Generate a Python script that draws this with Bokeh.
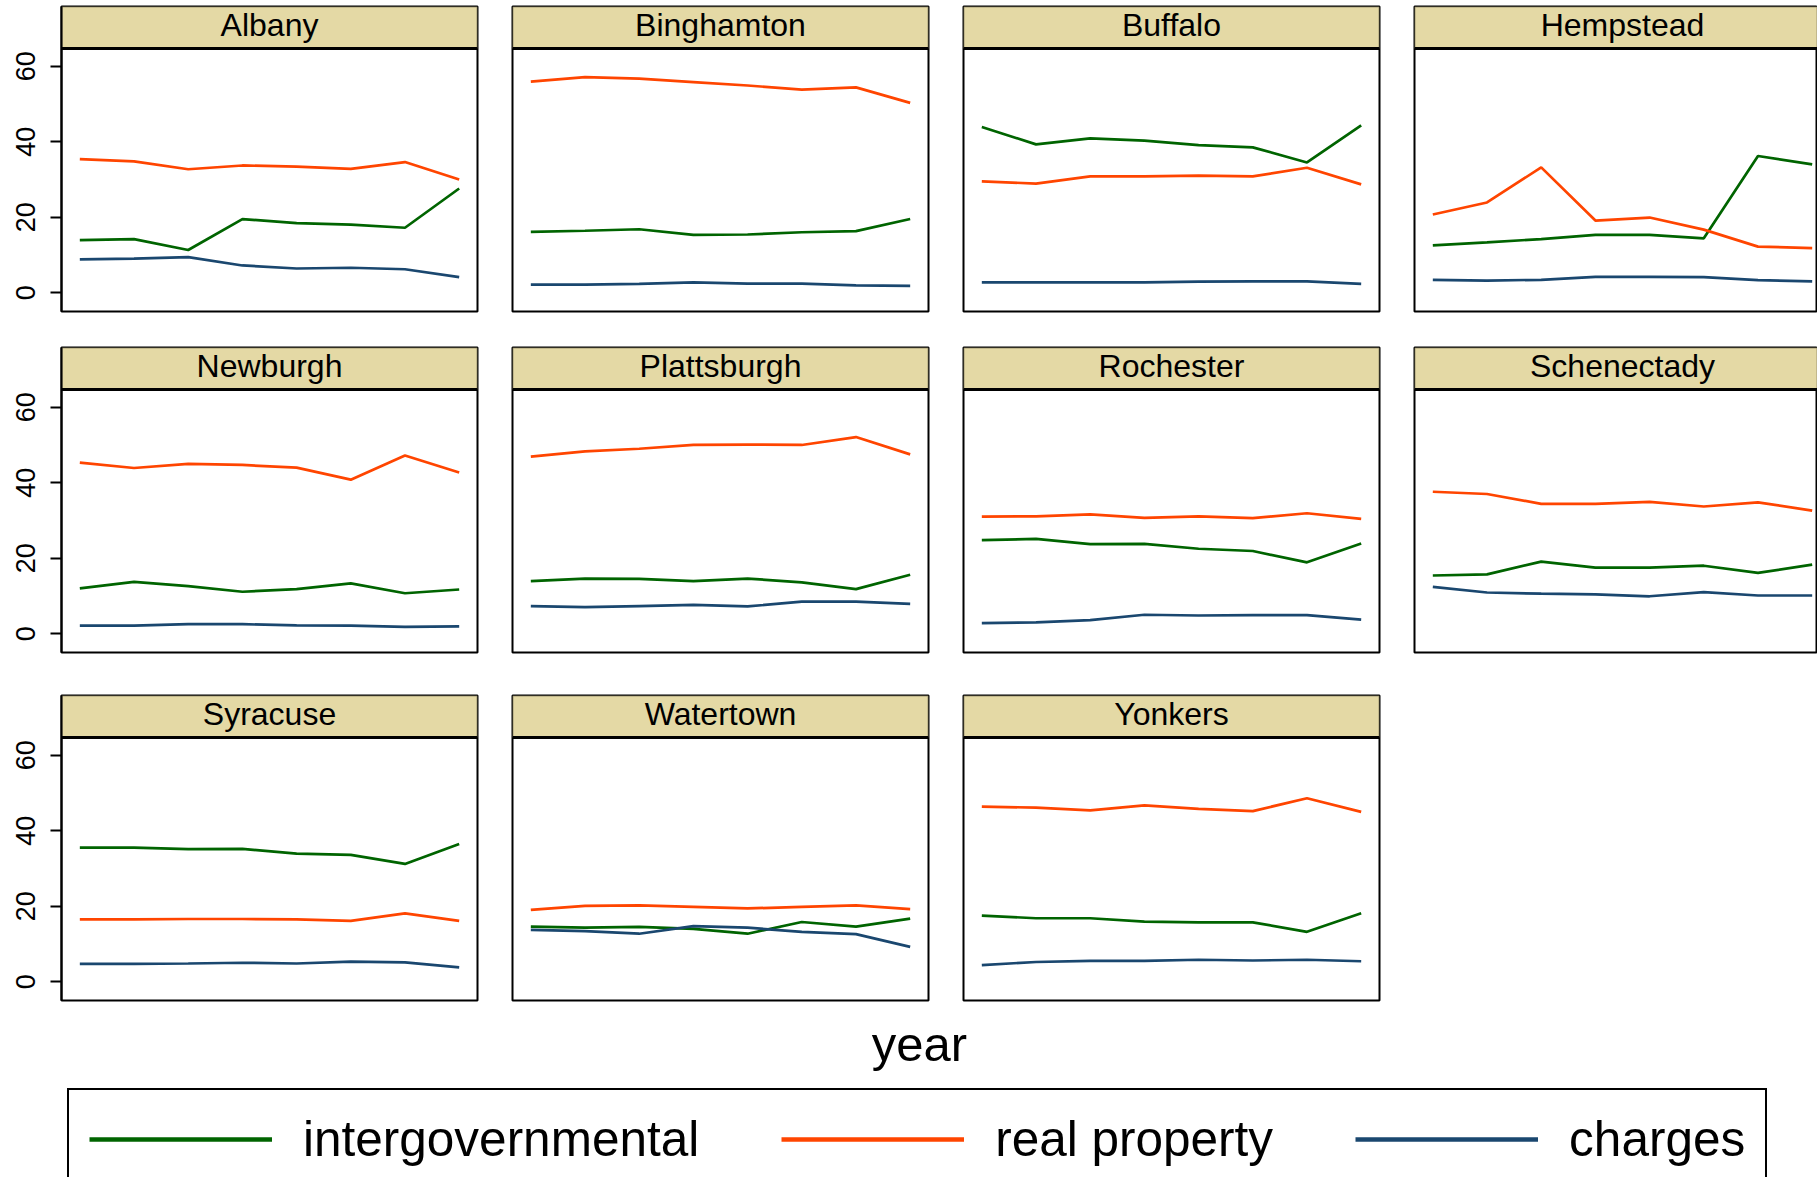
from bokeh.plotting import figure
from bokeh.models import (Range1d, FixedTicker, BoxAnnotation, Span, Label,
                          Legend, LegendItem)
from bokeh.layouts import row, column
from bokeh.embed import file_html
from bokeh.resources import INLINE

# ---------------- data ----------------
years = [2010, 2011, 2012, 2013, 2014, 2015, 2016, 2017]
cities = ["Albany", "Binghamton", "Buffalo", "Hempstead",
          "Newburgh", "Plattsburgh", "Rochester", "Schenectady",
          "Syracuse", "Watertown", "Yonkers"]
series_names = ["intergovernmental", "real property", "charges"]
y_ticks = [0, 20, 40, 60]

intergovernmental = [
    [13.9, 14.2, 11.3, 19.5, 18.4, 18.0, 17.2, 27.6],  # Albany
    [16.1, 16.4, 16.8, 15.3, 15.4, 16.0, 16.3, 19.5],  # Binghamton
    [43.9, 39.3, 40.9, 40.3, 39.1, 38.5, 34.5, 44.3],  # Buffalo
    [12.5, 13.3, 14.2, 15.3, 15.3, 14.4, 36.2, 34.0],  # Hempstead
    [12.0, 13.7, 12.6, 11.1, 11.8, 13.3, 10.7, 11.7],  # Newburgh
    [13.9, 14.6, 14.5, 13.9, 14.6, 13.6, 11.8, 15.6],  # Plattsburgh
    [24.8, 25.1, 23.7, 23.8, 22.5, 21.9, 18.9, 23.9],  # Rochester
    [15.4, 15.7, 19.1, 17.5, 17.5, 18.0, 16.1, 18.3],  # Schenectady
    [35.5, 35.5, 35.1, 35.2, 33.9, 33.6, 31.2, 36.5],  # Syracuse
    [14.6, 14.3, 14.5, 14.0, 12.7, 15.8, 14.6, 16.7],  # Watertown
    [17.5, 16.8, 16.8, 15.9, 15.7, 15.7, 13.2, 18.1],  # Yonkers
]
real_property = [
    [35.4, 34.8, 32.7, 33.7, 33.4, 32.8, 34.6, 30.0],  # Albany
    [55.9, 57.1, 56.7, 55.8, 54.9, 53.8, 54.4, 50.3],  # Binghamton
    [29.5, 28.9, 30.8, 30.8, 31.0, 30.8, 33.1, 28.7],  # Buffalo
    [20.7, 23.9, 33.2, 19.1, 19.9, 16.7, 12.2, 11.8],  # Hempstead
    [45.3, 43.9, 45.0, 44.7, 44.0, 40.8, 47.2, 42.7],  # Newburgh
    [46.9, 48.3, 49.0, 50.0, 50.1, 50.0, 52.1, 47.5],  # Plattsburgh
    [31.0, 31.1, 31.6, 30.7, 31.1, 30.6, 31.9, 30.4],  # Rochester
    [37.6, 37.0, 34.4, 34.4, 34.9, 33.7, 34.8, 32.6],  # Schenectady
    [16.5, 16.5, 16.6, 16.6, 16.5, 16.1, 18.1, 16.1],  # Syracuse
    [19.0, 20.1, 20.2, 19.8, 19.4, 19.8, 20.2, 19.2],  # Watertown
    [46.4, 46.1, 45.4, 46.7, 45.8, 45.2, 48.6, 45.0],  # Yonkers
]
charges = [
    [8.8, 9.0, 9.4, 7.2, 6.4, 6.6, 6.2, 4.1],          # Albany
    [2.1, 2.1, 2.3, 2.7, 2.4, 2.4, 1.9, 1.8],          # Binghamton
    [2.7, 2.7, 2.7, 2.7, 2.9, 3.0, 3.0, 2.3],          # Buffalo
    [3.4, 3.2, 3.4, 4.2, 4.2, 4.1, 3.3, 3.0],          # Hempstead
    [2.1, 2.1, 2.5, 2.5, 2.2, 2.1, 1.8, 1.9],          # Newburgh
    [7.3, 7.0, 7.3, 7.6, 7.2, 8.5, 8.5, 7.9],          # Plattsburgh
    [2.8, 3.0, 3.6, 5.0, 4.8, 4.9, 4.9, 3.7],          # Rochester
    [12.4, 10.9, 10.6, 10.4, 9.9, 11.0, 10.1, 10.1],   # Schenectady
    [4.7, 4.7, 4.8, 5.0, 4.8, 5.3, 5.1, 3.8],          # Syracuse
    [13.7, 13.4, 12.7, 14.7, 14.3, 13.2, 12.6, 9.2],   # Watertown
    [4.4, 5.2, 5.5, 5.5, 5.8, 5.6, 5.8, 5.4],          # Yonkers
]

# ---------------- styling / layout ----------------
COLORS = ["#006400", "#ff4500", "#1a476f"]
STRIP_FILL = "#e4d9a5"
FONT = "Liberation Sans"
Y_LO, Y_HI = -5.0, 64.7
PLOT_H = 263
STRIP_H = 42
PPU = PLOT_H / (Y_HI - Y_LO)
X_PAD = 0.338
FRAME_W = 416
X_PPU = FRAME_W / (years[-1] - years[0] + 2 * X_PAD)
LINE_W = 2.7

row_border_top = [6, 2, 3]
row_border_bottom = [34, 40, 2]
col_left = [61, 5, 5, 5]
col_right = [30, 30, 30, 0]
col_frame_w = [FRAME_W, FRAME_W, FRAME_W, 403]


def make_panel(i, r, c):
    y_top = Y_HI + STRIP_H / PPU
    x0 = years[0] - X_PAD
    x1 = x0 + col_frame_w[c] / X_PPU
    p = figure(frame_width=col_frame_w[c], frame_height=PLOT_H + STRIP_H,
               x_range=Range1d(x0, x1), y_range=Range1d(Y_LO, y_top),
               x_axis_location=None,
               y_axis_location="left" if c == 0 else None,
               toolbar_location=None, output_backend="svg",
               min_border_left=col_left[c], min_border_right=col_right[c],
               min_border_top=row_border_top[r],
               min_border_bottom=row_border_bottom[r],
               background_fill_color="white", border_fill_color="white",
               outline_line_color="black", outline_line_width=2)
    p.grid.visible = False
    if c == 0:
        ax = p.yaxis[0]
        ax.ticker = FixedTicker(ticks=y_ticks)
        ax.major_label_orientation = "vertical"
        ax.major_label_text_font = FONT
        ax.major_label_text_font_size = "27px"
        ax.major_label_text_color = "black"
        ax.major_label_standoff = 15
        ax.major_tick_out = 11
        ax.major_tick_in = 0
        ax.major_tick_line_width = 2
        ax.major_tick_line_color = "black"
        ax.minor_tick_line_color = None
        ax.axis_line_width = 2
        ax.axis_line_color = "black"

    for vals, col in zip([intergovernmental[i], real_property[i], charges[i]],
                         COLORS):
        p.line(x=years, y=vals, line_color=col, line_width=LINE_W)

    p.add_layout(BoxAnnotation(bottom=Y_HI, fill_color=STRIP_FILL,
                               fill_alpha=1.0, line_color="black",
                               line_width=2, level="underlay"))
    p.add_layout(Span(location=Y_HI, dimension="width", line_color="black",
                      line_width=3))
    p.add_layout(Label(x=x0 + (FRAME_W / 2) / X_PPU,
                       y=(Y_HI + y_top) / 2 + 3 / PPU, text=cities[i],
                       text_align="center", text_baseline="middle",
                       text_font=FONT, text_font_size="32px",
                       text_color="black"))
    return p


rows = []
for r in range(3):
    figs = []
    for c in range(4):
        i = r * 4 + c
        if i < len(cities):
            figs.append(make_panel(i, r, c))
    rows.append(row(*figs, spacing=0))

# bottom area: x-axis title and legend
BOT_TOP, BOT_BOTTOM, PAGE_W = 1002, 1177, 1817
bot = figure(frame_width=PAGE_W, frame_height=BOT_BOTTOM - BOT_TOP,
             x_range=Range1d(0, PAGE_W), y_range=Range1d(BOT_BOTTOM, BOT_TOP),
             x_axis_location=None, y_axis_location=None,
             toolbar_location=None, output_backend="svg",
             min_border=0, outline_line_color=None,
             background_fill_color="white", border_fill_color="white")
bot.grid.visible = False
bot.add_layout(Label(x=919, y=1043, text="year", text_align="center",
                     text_baseline="alphabetic", text_font=FONT,
                     text_font_size="49px", text_color="black"))
nan = float("nan")
items = []
for name, col in zip(series_names, COLORS):
    rr = bot.line(x=[nan], y=[nan], line_color=col, line_width=4.5)
    items.append(LegendItem(label=name, renderers=[rr]))
legend = Legend(items=items, orientation="horizontal", location=(67, -12),
                glyph_width=183, glyph_height=48, label_height=48,
                label_standoff=31, spacing=82, padding=20, margin=0,
                label_text_font=FONT, label_text_font_size="49.5px",
                label_text_color="black",
                border_line_color="black", border_line_width=2,
                border_line_alpha=1.0,
                background_fill_color="white", background_fill_alpha=1.0)
bot.add_layout(legend, "center")

layout = column(*rows, bot, spacing=0)

open("out.html", "w").write(file_html(layout, INLINE))
